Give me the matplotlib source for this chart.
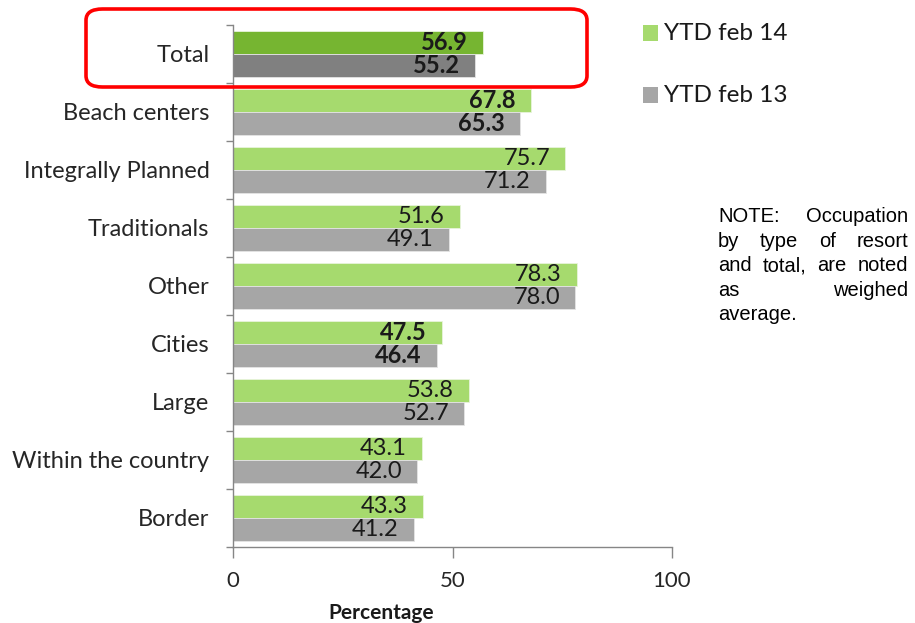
import matplotlib
matplotlib.use("Agg")
import matplotlib.pyplot as plt
from matplotlib.patches import FancyBboxPatch, Rectangle
import numpy as np

categories = ["Total", "Beach centers", "Integrally Planned", "Traditionals", "Other",
              "Cities", "Large", "Within the country", "Border"]
feb14 = [56.9, 67.8, 75.7, 51.6, 78.3, 47.5, 53.8, 43.1, 43.3]
feb13 = [55.2, 65.3, 71.2, 49.1, 78.0, 46.4, 52.7, 42.0, 41.2]
bold_rows = ["Total", "Beach centers", "Cities"]
series_names = ["YTD feb 14", "YTD feb 13"]
xticks = [0, 50, 100]

green = "#A6DA6E"
gray = "#A6A6A6"
green_dark = "#76B531"
gray_dark = "#808080"

W, H = 915, 623
fig = plt.figure(figsize=(W / 100, H / 100), dpi=100)
ax = fig.add_axes([233 / W, (H - 547) / H, (672 - 233) / W, (547 - 25) / H])

n = len(categories)
y = np.arange(n)
bh = 0.4
c14 = [green_dark if c == "Total" else green for c in categories]
c13 = [gray_dark if c == "Total" else gray for c in categories]
ax.barh(y - bh / 2, feb14, height=bh, color=c14, edgecolor="#e8f4dc", linewidth=0.6)
ax.barh(y + bh / 2, feb13, height=bh, color=c13, edgecolor="#e4e4e4", linewidth=0.6)

lab_font = "Lato"
for i, c in enumerate(categories):
    w = "bold" if c in bold_rows else "normal"
    for val, yy in ((feb14[i], y[i] - bh / 2), (feb13[i], y[i] + bh / 2)):
        ax.annotate(f"{val:.1f}", (val, yy), xytext=(-11, 0), textcoords="offset points",
                    ha="right", va="center", fontsize=17, fontweight=w,
                    family=lab_font, color="#1a1a1a")

ax.set_xlim(0, 100)
ax.set_ylim(n - 0.5, -0.5)
ax.set_xticks(xticks)
ax.set_xticklabels([str(t) for t in xticks], family=lab_font, fontsize=16, color="#262626")
ax.set_yticks(y)
ax.set_yticklabels(categories, family=lab_font, fontsize=17, color="#262626")
ax.tick_params(axis="y", length=0, pad=17)
ax.set_yticks(np.arange(n + 1) - 0.5, minor=True)
ax.tick_params(axis="y", which="minor", length=5, color="#868686", width=1)
ax.tick_params(axis="x", length=8, direction="out", color="#868686", width=1, pad=9)
for s in ["top", "right"]:
    ax.spines[s].set_visible(False)
for s in ["left", "bottom"]:
    ax.spines[s].set_color("#868686")
    ax.spines[s].set_linewidth(1)
ax.set_xlabel("Percentage", family=lab_font, fontsize=15, fontweight="bold",
              color="#1a1a1a")
ax.xaxis.set_label_coords((381 - 233) / (672 - 233), -(613 - 547) / (547 - 25))
ax.xaxis.label.set_va("center")

# red rounded box around Total
box = FancyBboxPatch((86 / W, (H - 87) / H), (587 - 86) / W, (87 - 9) / H,
                     boxstyle="round,pad=0,rounding_size=0.018", transform=fig.transFigure,
                     facecolor="none", edgecolor="#FF0000", linewidth=2.6, clip_on=False)
fig.patches.append(box)

# legend
for k, (name, col) in enumerate(zip(series_names, [green, gray])):
    yc = 33 + k * 62
    fig.patches.append(Rectangle((643 / W, (H - yc - 7.5) / H), 15 / W, 15 / H,
                                 transform=fig.transFigure, facecolor=col, edgecolor="none"))
    fig.text(664 / W, (H - yc) / H, name, family=lab_font, fontsize=17.5, va="center",
             ha="left", color="#1a1a1a")

# justified note
note_lines = [["NOTE:", "Occupation"], ["by", "type", "of", "resort"],
              ["and", "total,", "are", "noted"], ["as", "weighed"], ["average."]]
x0, x1 = 718, 908
fig.canvas.draw()
r = fig.canvas.get_renderer()
for li, words in enumerate(note_lines):
    yb = 222 + li * 24.6
    texts = [fig.text(0, (H - yb) / H, w, family="Liberation Sans", fontsize=14.5,
                      va="baseline", ha="left", color="black") for w in words]
    widths = [t.get_window_extent(r).width for t in texts]
    if li == len(note_lines) - 1:
        xs = [x0]
        for wd in widths[:-1]:
            xs.append(xs[-1] + wd + 4)
    else:
        gap = (x1 - x0 - sum(widths)) / (len(words) - 1)
        xs = [x0]
        for wd in widths[:-1]:
            xs.append(xs[-1] + wd + gap)
    for t, xx in zip(texts, xs):
        t.set_x(xx / W)

fig.savefig("out.png", dpi=100)
